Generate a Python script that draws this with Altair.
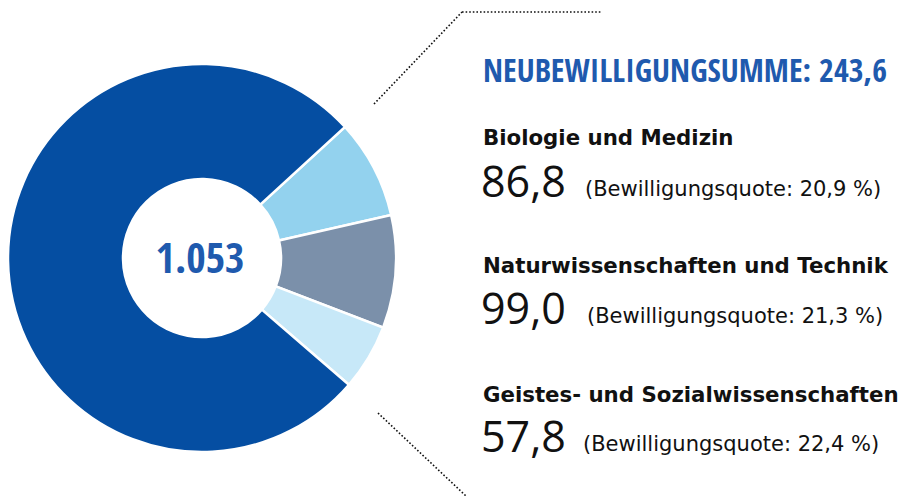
import altair as alt
import pandas as pd

# ---- data ----
categories = ["Biologie und Medizin", "Naturwissenschaften und Technik",
              "Geistes- und Sozialwissenschaften", "Übrige"]
amounts = [86.8, 99.0, 57.8, 809.4]
quotes = [20.9, 21.3, 22.4]
colors = ["#93D2EE", "#7B90AA", "#C7E8F8", "#054EA2"]
total_label = "1.053"

new_sum = sum(amounts[:3])


def de(v):
    return f"{v:.1f}".replace(".", ",")


df = pd.DataFrame({"cat": categories, "amount": amounts, "order": list(range(4))})

W, H = 914, 496
CX, CY = 202, 258
start = 0.829  # radians, from 12 o'clock
TWO_PI = 6.283185307

BLUE = "#1F5AAE"
COND = ("Noto Sans ExtraCondensed, Noto Sans Condensed, Open Sans Condensed, "
        "DejaVu Sans Condensed, Roboto, sans-serif")
WIDE = "DejaVu Sans, Open Sans, sans-serif"
SANS = "Open Sans, Inter, Roboto, sans-serif"

donut = alt.Chart(df).mark_arc(
    innerRadius=79, outerRadius=194, stroke="white", strokeWidth=2.5
).encode(
    theta=alt.Theta("amount:Q", stack=True,
                    scale=alt.Scale(range=[start, start + TWO_PI])),
    order=alt.Order("order:Q"),
    color=alt.Color("cat:N", scale=alt.Scale(domain=categories, range=colors), legend=None),
    x=alt.value(CX), y=alt.value(CY),
)

one = pd.DataFrame({"k": [0]})

center = alt.Chart(one).mark_text(
    font=COND, fontWeight="bold", fontSize=42, color=BLUE,
    align="center", baseline="alphabetic"
).encode(x=alt.value(CX - 2), y=alt.value(273), text=alt.value(total_label))

title = alt.Chart(one).mark_text(
    font=COND, fontWeight="bold", fontSize=32, color=BLUE,
    align="left", baseline="alphabetic"
).encode(x=alt.value(483), y=alt.value(82),
         text=alt.value(f"NEUBEWILLIGUNGSUMME: {de(new_sum)}"))

layers = [donut, center, title]

name_y = [145, 273, 402]
val_y = [197, 324, 452]
quote_x = [585, 587, 583]
for i in range(3):
    layers.append(alt.Chart(one).mark_text(
        font=WIDE, fontWeight="bold", fontSize=21.3, color="#111111",
        align="left", baseline="alphabetic"
    ).encode(x=alt.value(483), y=alt.value(name_y[i]), text=alt.value(categories[i])))
    layers.append(alt.Chart(one).mark_text(
        font=SANS, fontSize=43, color="#111111",
        align="left", baseline="alphabetic"
    ).encode(x=alt.value(481), y=alt.value(val_y[i]), text=alt.value(de(amounts[i]))))
    layers.append(alt.Chart(one).mark_text(
        font=WIDE, fontSize=21, color="#111111",
        align="left", baseline="alphabetic"
    ).encode(x=alt.value(quote_x[i]), y=alt.value(val_y[i] - 1),
             text=alt.value(f"(Bewilligungsquote: {de(quotes[i])} %)")))

dot = dict(color="#111111", strokeWidth=1.6, strokeDash=[1.6, 2.0])
layers.append(alt.Chart(one).mark_rule(**dot).encode(
    x=alt.value(374), y=alt.value(104), x2=alt.value(462), y2=alt.value(12)))
layers.append(alt.Chart(one).mark_rule(**dot).encode(
    x=alt.value(462), y=alt.value(12), x2=alt.value(602), y2=alt.value(12)))
layers.append(alt.Chart(one).mark_rule(**dot).encode(
    x=alt.value(378), y=alt.value(413), x2=alt.value(466), y2=alt.value(496)))

chart = alt.layer(*layers).properties(
    width=W, height=H, padding=0, autosize="none"
).configure_view(stroke=None)

chart.save("out.html", embed_options={"renderer": "svg", "actions": False})
